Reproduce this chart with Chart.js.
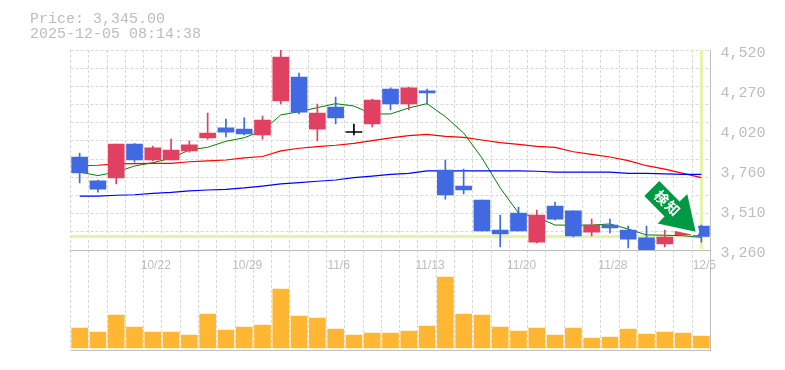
<!DOCTYPE html>
<html>
<head>
<meta charset="utf-8">
<style>
html,body{margin:0;padding:0;background:#fff;overflow:hidden}
#box{width:785px;height:370px;position:relative}
</style>
<script src="https://cdn.jsdelivr.net/npm/chart.js@4"></script>
</head>
<body>
<div id="box"><canvas id="c" width="785" height="370"></canvas></div>
<script>
const dates = ['10/16','10/17','10/20','10/21','10/22','10/23','10/24','10/27','10/28','10/29','10/30','10/31','11/4','11/5','11/6','11/7','11/10','11/11','11/12','11/13','11/14','11/17','11/18','11/19','11/20','11/21','11/25','11/26','11/27','11/28','12/1','12/2','12/3','12/4','12/5'];
const tickDates = ['10/22','10/29','11/6','11/13','11/20','11/28','12/5'];
const opens  = [3846,3695,3714,3928,3827,3827,3884,3966,4029,4022,3985,4199,4350,4022,4161,4000,4054,4274,4180,4262,3764,3663,3575,3386,3493,3310,3537,3506,3373,3417,3386,3336,3298,3356,3411];
const closes = [3745,3644,3928,3827,3903,3890,3922,3997,4003,3991,4079,4476,4129,4123,4092,4000,4205,4180,4281,4249,3607,3638,3380,3361,3380,3480,3455,3348,3417,3399,3329,3254,3342,3399,3345];
const highs  = [3871,3701,3928,3931,3915,3959,3947,4123,4085,4092,4104,4520,4375,4180,4224,4054,4211,4281,4287,4274,3827,3770,3575,3480,3531,3512,3562,3506,3455,3455,3411,3411,3386,3405,3417];
const lows   = [3682,3625,3676,3814,3821,3827,3877,3959,3972,3985,3959,4180,4117,3947,4054,3985,4035,4142,4142,4180,3581,3613,3380,3279,3380,3304,3449,3342,3348,3367,3273,3254,3279,3352,3310];
const volumes = [20000,16000,33000,21000,16000,16000,13000,34000,18000,21000,23000,59000,32000,30000,19000,13000,15000,15000,17000,22000,71000,34000,33000,21000,17000,20000,13000,20000,10000,11000,19000,14000,16000,15000,12000];
const maShort = [3751,3729,3751,3789,3810,3838,3890,3907,3945,3967,4012,4111,4131,4157,4182,4167,4117,4117,4155,4182,4100,3997,3840,3651,3493,3468,3417,3417,3417,3424,3392,3355,3353,3350,3340];
const maMid   = [3792,3794,3802,3804,3806,3806,3816,3821,3827,3840,3849,3884,3901,3911,3920,3932,3949,3966,3980,3989,3976,3970,3953,3936,3926,3913,3907,3879,3863,3846,3823,3791,3770,3743,3716];
const maLong  = [3600,3600,3605,3608,3617,3623,3632,3638,3642,3651,3663,3676,3684,3693,3701,3716,3726,3737,3743,3758,3758,3758,3758,3758,3758,3756,3750,3750,3750,3750,3743,3743,3739,3737,3737];
const priceTicks = [3260,3512,3764,4016,4268,4520];
const priceTickLabels = ['3,260','3,510','3,760','4,020','4,270','4,520'];
const priceGridStep = 1260 / 11;
const priceMin = 3260, priceMax = 4520;
const volMin = -2000, volMax = 98000;
const lastPrice = 3345;
const headerLines = ['Price: 3,345.00', '2025-12-05 08:14:38'];
const signalChars = ['検', '知'];

const BLUE = '#4169E1', RED = '#E24060', GRAY = '#BDBDBD', GRID = '#D8D8D8', MARK = '#E4F5A8';
const colorOf = (o, c) => c > o ? RED : (c < o ? BLUE : '#000000');
const candleColors = opens.map((o, i) => colorOf(o, closes[i]));

const gridValues = [];
for (let i = 0; i <= 11; i++) gridValues.push(priceMin + priceGridStep * i);

const backdrop = {
  id: 'backdrop',
  beforeDatasetsDraw(chart) {
    const { ctx, chartArea: a, scales: { x, y } } = chart;
    const py = y.getPixelForValue(lastPrice), px = x.getPixelForValue(dates.length - 1);
    ctx.save();
    ctx.fillStyle = MARK;
    ctx.fillRect(a.left, py - 1.5, a.right - a.left, 3);
    ctx.fillRect(px - 1.5, y.top, 3, y.bottom - y.top - 1);
    ctx.restore();
  }
};

const overlay = {
  id: 'overlay',
  afterDraw(chart) {
    const { ctx, scales: { x, y } } = chart;
    ctx.save();
    ctx.fillStyle = GRAY;
    ctx.font = '15px "Liberation Mono", monospace';
    ctx.textBaseline = 'alphabetic';
    ctx.textAlign = 'left';
    ctx.fillText(headerLines[0], 30, 23);
    ctx.fillText(headerLines[1], 30, 38);

    const tx = x.getPixelForValue(dates.length - 1) - 5.7;
    const ty = y.getPixelForValue(lastPrice) - 4.8;
    const shape = [[-36.4,-50.7],[-51.4,-35.7],[-31.1,-15.3],[-38,-8.2],[0,0],[-8.4,-37.7],[-16.1,-30.3]];
    ctx.beginPath();
    shape.forEach((p, i) => i ? ctx.lineTo(tx + p[0], ty + p[1]) : ctx.moveTo(tx + p[0], ty + p[1]));
    ctx.closePath();
    ctx.lineJoin = 'round';
    ctx.strokeStyle = '#FFFFFF';
    ctx.lineWidth = 7;
    ctx.stroke();
    ctx.fillStyle = '#009944';
    ctx.fill();

    ctx.fillStyle = '#FFFFFF';
    ctx.font = 'bold 14px "Noto Sans CJK JP", sans-serif';
    ctx.textAlign = 'center';
    ctx.textBaseline = 'middle';
    [[-34,-34],[-23,-23.4]].forEach((p, i) => {
      ctx.save();
      ctx.translate(tx + p[0], ty + p[1]);
      ctx.rotate(Math.PI / 4);
      ctx.fillText(signalChars[i], 0, 0);
      ctx.restore();
    });
    ctx.restore();
  }
};

new Chart(document.getElementById('c'), {
  type: 'bar',
  plugins: [backdrop, overlay],
  data: {
    labels: dates,
    datasets: [
      { type: 'bar', label: 'Body', data: opens.map((o, i) => [o, closes[i]]), backgroundColor: candleColors, barThickness: 16, minBarLength: 1, grouped: false, yAxisID: 'y', order: 1 },
      { type: 'bar', label: 'Wick', data: lows.map((l, i) => [l, highs[i]]), backgroundColor: candleColors, barThickness: 1, grouped: false, yAxisID: 'y', order: 2 },
      { type: 'line', label: 'MA short', data: maShort, borderColor: '#008000', borderWidth: 1, pointRadius: 0, tension: 0, yAxisID: 'y', order: 5 },
      { type: 'line', label: 'MA mid', data: maMid, borderColor: '#FF0000', borderWidth: 1.2, pointRadius: 0, tension: 0, yAxisID: 'y', order: 4 },
      { type: 'line', label: 'MA long', data: maLong, borderColor: '#0000FF', borderWidth: 1.2, pointRadius: 0, tension: 0, yAxisID: 'y', order: 3 },
      { type: 'bar', label: 'Volume', data: volumes, backgroundColor: '#FFB733', barThickness: 16, grouped: false, yAxisID: 'yv', order: 6 }
    ]
  },
  options: {
    responsive: false,
    animation: false,
    layout: { padding: { left: 70.5, top: 50, right: 0, bottom: 20 } },
    plugins: { legend: { display: false }, tooltip: { enabled: false }, title: { display: false } },
    scales: {
      x: {
        type: 'category',
        position: { y: priceMin },
        offset: true,
        grid: { display: true, offset: true, color: GRID, drawTicks: false, lineWidth: 1 },
        border: { display: true, color: GRAY, dash: [3, 2], width: 1 },
        ticks: {
          autoSkip: false, maxRotation: 0, minRotation: 0, padding: 8, labelOffset: 3,
          color: GRAY, font: { family: '"Liberation Sans", sans-serif', size: 12 },
          callback(v) { const d = dates[v]; return tickDates.includes(d) ? d : ''; }
        }
      },
      y: {
        position: 'right',
        stack: 'panels',
        stackWeight: 2,
        weight: 1,
        min: priceMin,
        max: priceMax,
        afterFit(s) { s.width = 74.5; },
        afterBuildTicks(s) {
          const all = gridValues.map(v => ({ value: v }));
          priceTicks.slice(1, -1).forEach(v => all.push({ value: v }));
          all.sort((a, b) => a.value - b.value);
          s.ticks = all;
        },
        grid: {
          drawTicks: false,
          color(ctx) { const v = ctx.tick && ctx.tick.value; return gridValues.some(g => Math.abs(g - v) < 0.01) ? GRID : 'rgba(0,0,0,0)'; }
        },
        border: { display: true, color: GRAY, dash: [3, 2], width: 1 },
        ticks: {
          autoSkip: false, padding: 10, labelOffset: 3, align: 'center', crossAlign: 'near',
          color: GRAY, font: { family: '"Liberation Mono", monospace', size: 15 },
          callback(v) { const i = priceTicks.findIndex(t => Math.abs(t - v) < 0.01); return i >= 0 ? priceTickLabels[i] : ''; }
        }
      },
      yv: {
        position: 'right',
        stack: 'panels',
        stackWeight: 1,
        weight: 2,
        min: volMin,
        max: volMax,
        afterFit(s) { s.width = 74.5; },
        afterBuildTicks(s) { s.ticks = [{ value: volMin }]; },
        grid: { drawTicks: false, color: GRAY },
        border: { display: true, color: GRAY, width: 1 },
        ticks: { display: false }
      }
    }
  }
});
</script>
</body>
</html>
